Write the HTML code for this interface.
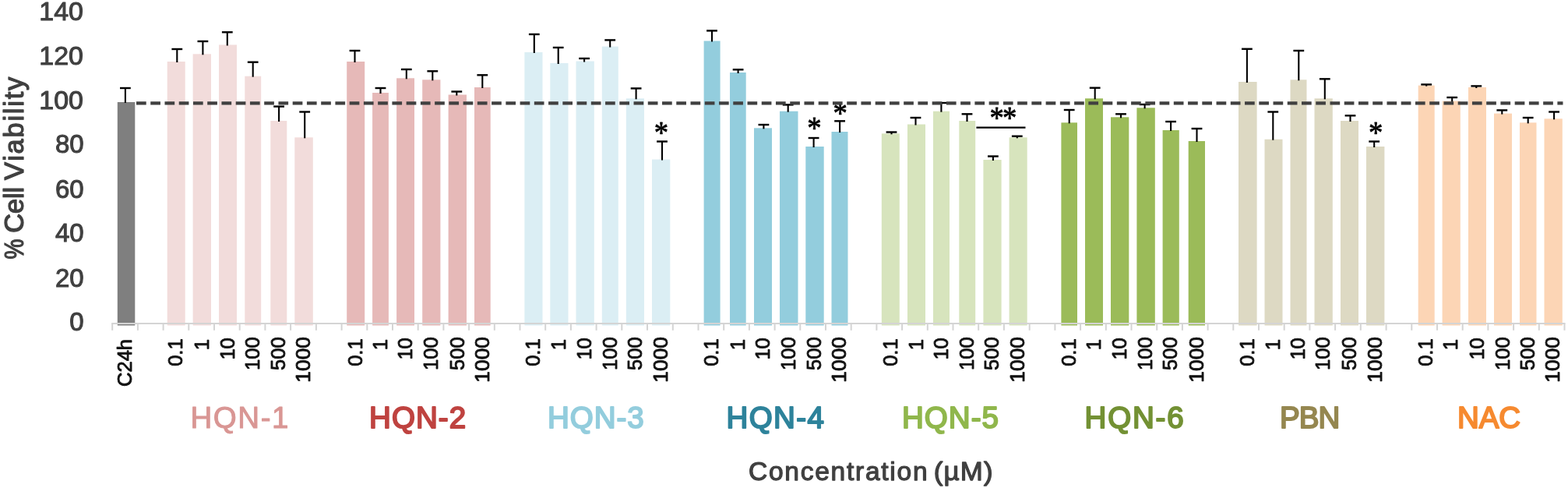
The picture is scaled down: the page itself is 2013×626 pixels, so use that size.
<!DOCTYPE html>
<html lang="en"><head><meta charset="utf-8"><title>Cell viability chart</title>
<style>html,body{margin:0;padding:0;background:#fff;}svg{display:block;}text{font-family:"Liberation Sans",sans-serif;}.yl{font-size:33px;fill:#404040;stroke:#404040;stroke-width:1.05px;stroke-linejoin:round;text-anchor:end;}.tl{font-size:25.5px;fill:#111;stroke:#111;stroke-width:0.9px;stroke-linejoin:round;text-anchor:end;}.gl{font-size:38.5px;stroke-width:2px;stroke-linejoin:round;text-anchor:start;}.at{font-size:31px;fill:#404040;stroke:#404040;stroke-width:1.25px;stroke-linejoin:round;text-anchor:middle;}.st{font-family:"Liberation Serif",serif;font-size:37.5px;fill:#000;stroke:#000;stroke-width:0.75px;stroke-linejoin:round;text-anchor:middle;}</style></head><body>
<svg width="2013" height="626" viewBox="0 0 2013 626">
<rect x="0" y="0" width="2013" height="626" fill="#ffffff"/>
<g id="bars">
<rect x="150.8" y="131.0" width="22.5" height="286.5" fill="#7F7F7F"/>
<rect x="214.7" y="79.0" width="23.0" height="338.5" fill="#F2DCDB"/>
<rect x="247.6" y="69.3" width="23.4" height="348.2" fill="#F2DCDB"/>
<rect x="281.0" y="57.5" width="23.0" height="360.0" fill="#F2DCDB"/>
<rect x="314.3" y="97.7" width="20.9" height="319.8" fill="#F2DCDB"/>
<rect x="347.3" y="155.0" width="21.0" height="262.5" fill="#F2DCDB"/>
<rect x="378.3" y="176.3" width="23.5" height="241.2" fill="#F2DCDB"/>
<rect x="445.2" y="79.0" width="23.0" height="338.5" fill="#E6B9B8"/>
<rect x="478.1" y="119.0" width="20.8" height="298.5" fill="#E6B9B8"/>
<rect x="509.1" y="100.3" width="22.9" height="317.2" fill="#E6B9B8"/>
<rect x="542.2" y="102.3" width="23.2" height="315.2" fill="#E6B9B8"/>
<rect x="575.6" y="121.5" width="23.4" height="296.0" fill="#E6B9B8"/>
<rect x="609.0" y="112.0" width="20.7" height="305.5" fill="#E6B9B8"/>
<rect x="673.4" y="67.0" width="23.1" height="350.5" fill="#DBEEF4"/>
<rect x="706.3" y="81.0" width="23.2" height="336.5" fill="#DBEEF4"/>
<rect x="739.5" y="78.5" width="23.3" height="339.0" fill="#DBEEF4"/>
<rect x="772.8" y="59.6" width="21.0" height="357.9" fill="#DBEEF4"/>
<rect x="803.8" y="126.3" width="23.2" height="291.2" fill="#DBEEF4"/>
<rect x="837.0" y="204.5" width="23.3" height="213.0" fill="#DBEEF4"/>
<rect x="903.6" y="52.5" width="21.0" height="365.0" fill="#93CDDD"/>
<rect x="937.0" y="93.0" width="20.7" height="324.5" fill="#93CDDD"/>
<rect x="968.0" y="164.3" width="23.0" height="253.2" fill="#93CDDD"/>
<rect x="1001.0" y="142.7" width="23.5" height="274.8" fill="#93CDDD"/>
<rect x="1034.3" y="188.0" width="23.4" height="229.5" fill="#93CDDD"/>
<rect x="1067.5" y="169.0" width="21.0" height="248.5" fill="#93CDDD"/>
<rect x="1131.8" y="171.3" width="23.0" height="246.2" fill="#D7E4BD"/>
<rect x="1165.0" y="159.5" width="23.0" height="258.0" fill="#D7E4BD"/>
<rect x="1198.0" y="142.7" width="21.0" height="274.8" fill="#D7E4BD"/>
<rect x="1231.3" y="155.0" width="20.9" height="262.5" fill="#D7E4BD"/>
<rect x="1262.4" y="205.0" width="23.2" height="212.5" fill="#D7E4BD"/>
<rect x="1295.6" y="176.3" width="23.1" height="241.2" fill="#D7E4BD"/>
<rect x="1362.4" y="157.3" width="20.6" height="260.2" fill="#9BBB59"/>
<rect x="1393.0" y="126.3" width="23.0" height="291.2" fill="#9BBB59"/>
<rect x="1426.0" y="150.3" width="23.3" height="267.2" fill="#9BBB59"/>
<rect x="1459.4" y="138.3" width="23.4" height="279.2" fill="#9BBB59"/>
<rect x="1492.6" y="167.0" width="21.2" height="250.5" fill="#9BBB59"/>
<rect x="1525.7" y="181.0" width="21.3" height="236.5" fill="#9BBB59"/>
<rect x="1590.0" y="105.0" width="23.6" height="312.5" fill="#DDD9C3"/>
<rect x="1623.5" y="178.7" width="23.0" height="238.8" fill="#DDD9C3"/>
<rect x="1656.5" y="102.3" width="21.0" height="315.2" fill="#DDD9C3"/>
<rect x="1687.5" y="126.3" width="23.3" height="291.2" fill="#DDD9C3"/>
<rect x="1721.0" y="155.0" width="23.0" height="262.5" fill="#DDD9C3"/>
<rect x="1754.0" y="188.0" width="23.4" height="229.5" fill="#DDD9C3"/>
<rect x="1820.7" y="109.6" width="21.0" height="307.9" fill="#FCD5B5"/>
<rect x="1851.6" y="129.6" width="23.2" height="287.9" fill="#FCD5B5"/>
<rect x="1885.0" y="112.0" width="23.0" height="305.5" fill="#FCD5B5"/>
<rect x="1918.0" y="145.6" width="23.0" height="271.9" fill="#FCD5B5"/>
<rect x="1951.0" y="157.3" width="21.5" height="260.2" fill="#FCD5B5"/>
<rect x="1982.5" y="152.3" width="23.3" height="265.2" fill="#FCD5B5"/>
</g>
<g id="axis" stroke="#D4D4D4" stroke-width="2" fill="none">
<line x1="143.2" y1="414.9" x2="2009.5" y2="414.9"/>
<line x1="144.2" y1="414.9" x2="144.2" y2="423.8"/>
<line x1="176.9" y1="414.9" x2="176.9" y2="423.8"/>
<line x1="209.6" y1="414.9" x2="209.6" y2="423.8"/>
<line x1="242.3" y1="414.9" x2="242.3" y2="423.8"/>
<line x1="275.0" y1="414.9" x2="275.0" y2="423.8"/>
<line x1="307.7" y1="414.9" x2="307.7" y2="423.8"/>
<line x1="340.4" y1="414.9" x2="340.4" y2="423.8"/>
<line x1="373.1" y1="414.9" x2="373.1" y2="423.8"/>
<line x1="405.9" y1="414.9" x2="405.9" y2="423.8"/>
<line x1="438.6" y1="414.9" x2="438.6" y2="423.8"/>
<line x1="471.3" y1="414.9" x2="471.3" y2="423.8"/>
<line x1="504.0" y1="414.9" x2="504.0" y2="423.8"/>
<line x1="536.7" y1="414.9" x2="536.7" y2="423.8"/>
<line x1="569.4" y1="414.9" x2="569.4" y2="423.8"/>
<line x1="602.1" y1="414.9" x2="602.1" y2="423.8"/>
<line x1="634.8" y1="414.9" x2="634.8" y2="423.8"/>
<line x1="667.5" y1="414.9" x2="667.5" y2="423.8"/>
<line x1="700.2" y1="414.9" x2="700.2" y2="423.8"/>
<line x1="732.9" y1="414.9" x2="732.9" y2="423.8"/>
<line x1="765.6" y1="414.9" x2="765.6" y2="423.8"/>
<line x1="798.3" y1="414.9" x2="798.3" y2="423.8"/>
<line x1="831.0" y1="414.9" x2="831.0" y2="423.8"/>
<line x1="863.8" y1="414.9" x2="863.8" y2="423.8"/>
<line x1="896.5" y1="414.9" x2="896.5" y2="423.8"/>
<line x1="929.2" y1="414.9" x2="929.2" y2="423.8"/>
<line x1="961.9" y1="414.9" x2="961.9" y2="423.8"/>
<line x1="994.6" y1="414.9" x2="994.6" y2="423.8"/>
<line x1="1027.3" y1="414.9" x2="1027.3" y2="423.8"/>
<line x1="1060.0" y1="414.9" x2="1060.0" y2="423.8"/>
<line x1="1092.7" y1="414.9" x2="1092.7" y2="423.8"/>
<line x1="1125.4" y1="414.9" x2="1125.4" y2="423.8"/>
<line x1="1158.1" y1="414.9" x2="1158.1" y2="423.8"/>
<line x1="1190.8" y1="414.9" x2="1190.8" y2="423.8"/>
<line x1="1223.5" y1="414.9" x2="1223.5" y2="423.8"/>
<line x1="1256.2" y1="414.9" x2="1256.2" y2="423.8"/>
<line x1="1288.9" y1="414.9" x2="1288.9" y2="423.8"/>
<line x1="1321.7" y1="414.9" x2="1321.7" y2="423.8"/>
<line x1="1354.4" y1="414.9" x2="1354.4" y2="423.8"/>
<line x1="1387.1" y1="414.9" x2="1387.1" y2="423.8"/>
<line x1="1419.8" y1="414.9" x2="1419.8" y2="423.8"/>
<line x1="1452.5" y1="414.9" x2="1452.5" y2="423.8"/>
<line x1="1485.2" y1="414.9" x2="1485.2" y2="423.8"/>
<line x1="1517.9" y1="414.9" x2="1517.9" y2="423.8"/>
<line x1="1550.6" y1="414.9" x2="1550.6" y2="423.8"/>
<line x1="1583.3" y1="414.9" x2="1583.3" y2="423.8"/>
<line x1="1616.0" y1="414.9" x2="1616.0" y2="423.8"/>
<line x1="1648.7" y1="414.9" x2="1648.7" y2="423.8"/>
<line x1="1681.4" y1="414.9" x2="1681.4" y2="423.8"/>
<line x1="1714.1" y1="414.9" x2="1714.1" y2="423.8"/>
<line x1="1746.8" y1="414.9" x2="1746.8" y2="423.8"/>
<line x1="1779.6" y1="414.9" x2="1779.6" y2="423.8"/>
<line x1="1812.3" y1="414.9" x2="1812.3" y2="423.8"/>
<line x1="1845.0" y1="414.9" x2="1845.0" y2="423.8"/>
<line x1="1877.7" y1="414.9" x2="1877.7" y2="423.8"/>
<line x1="1910.4" y1="414.9" x2="1910.4" y2="423.8"/>
<line x1="1943.1" y1="414.9" x2="1943.1" y2="423.8"/>
<line x1="1975.8" y1="414.9" x2="1975.8" y2="423.8"/>
<line x1="2008.5" y1="414.9" x2="2008.5" y2="423.8"/>
</g>
<g id="err" stroke="#000" fill="none">
<line x1="160.9" y1="113.0" x2="160.9" y2="132.0" stroke-width="2.1"/>
<line x1="154.0" y1="113.0" x2="167.8" y2="113.0" stroke-width="2.4"/>
<line x1="227.3" y1="63.0" x2="227.3" y2="80.0" stroke-width="2.1"/>
<line x1="220.4" y1="63.0" x2="234.2" y2="63.0" stroke-width="2.4"/>
<line x1="260.4" y1="53.0" x2="260.4" y2="70.3" stroke-width="2.1"/>
<line x1="253.5" y1="53.0" x2="267.3" y2="53.0" stroke-width="2.4"/>
<line x1="291.8" y1="41.3" x2="291.8" y2="58.5" stroke-width="2.1"/>
<line x1="284.9" y1="41.3" x2="298.7" y2="41.3" stroke-width="2.4"/>
<line x1="324.7" y1="79.7" x2="324.7" y2="98.7" stroke-width="2.1"/>
<line x1="317.8" y1="79.7" x2="331.6" y2="79.7" stroke-width="2.4"/>
<line x1="358.1" y1="136.6" x2="358.1" y2="156.0" stroke-width="2.1"/>
<line x1="351.2" y1="136.6" x2="365.0" y2="136.6" stroke-width="2.4"/>
<line x1="391.2" y1="143.5" x2="391.2" y2="177.3" stroke-width="2.1"/>
<line x1="384.3" y1="143.5" x2="398.1" y2="143.5" stroke-width="2.4"/>
<line x1="455.5" y1="65.0" x2="455.5" y2="80.0" stroke-width="2.1"/>
<line x1="448.6" y1="65.0" x2="462.4" y2="65.0" stroke-width="2.4"/>
<line x1="488.5" y1="113.0" x2="488.5" y2="120.0" stroke-width="2.1"/>
<line x1="481.6" y1="113.0" x2="495.4" y2="113.0" stroke-width="2.4"/>
<line x1="521.8" y1="89.0" x2="521.8" y2="101.3" stroke-width="2.1"/>
<line x1="514.9" y1="89.0" x2="528.7" y2="89.0" stroke-width="2.4"/>
<line x1="555.3" y1="91.3" x2="555.3" y2="103.3" stroke-width="2.1"/>
<line x1="548.4" y1="91.3" x2="562.2" y2="91.3" stroke-width="2.4"/>
<line x1="586.3" y1="117.5" x2="586.3" y2="122.5" stroke-width="2.1"/>
<line x1="579.4" y1="117.5" x2="593.2" y2="117.5" stroke-width="2.4"/>
<line x1="619.3" y1="96.3" x2="619.3" y2="113.0" stroke-width="2.1"/>
<line x1="612.4" y1="96.3" x2="626.2" y2="96.3" stroke-width="2.4"/>
<line x1="685.8" y1="44.0" x2="685.8" y2="68.0" stroke-width="2.1"/>
<line x1="678.9" y1="44.0" x2="692.7" y2="44.0" stroke-width="2.4"/>
<line x1="716.7" y1="61.0" x2="716.7" y2="82.0" stroke-width="2.1"/>
<line x1="709.8" y1="61.0" x2="723.6" y2="61.0" stroke-width="2.4"/>
<line x1="750.1" y1="75.0" x2="750.1" y2="79.5" stroke-width="2.1"/>
<line x1="743.2" y1="75.0" x2="757.0" y2="75.0" stroke-width="2.4"/>
<line x1="783.2" y1="51.4" x2="783.2" y2="60.6" stroke-width="2.1"/>
<line x1="776.3" y1="51.4" x2="790.1" y2="51.4" stroke-width="2.4"/>
<line x1="816.6" y1="113.4" x2="816.6" y2="127.3" stroke-width="2.1"/>
<line x1="809.7" y1="113.4" x2="823.5" y2="113.4" stroke-width="2.4"/>
<line x1="850.0" y1="181.5" x2="850.0" y2="205.5" stroke-width="2.1"/>
<line x1="843.1" y1="181.5" x2="856.9" y2="181.5" stroke-width="2.4"/>
<line x1="914.0" y1="39.4" x2="914.0" y2="53.5" stroke-width="2.1"/>
<line x1="907.1" y1="39.4" x2="920.9" y2="39.4" stroke-width="2.4"/>
<line x1="947.6" y1="89.3" x2="947.6" y2="94.0" stroke-width="2.1"/>
<line x1="940.7" y1="89.3" x2="954.5" y2="89.3" stroke-width="2.4"/>
<line x1="980.4" y1="160.0" x2="980.4" y2="165.3" stroke-width="2.1"/>
<line x1="973.5" y1="160.0" x2="987.3" y2="160.0" stroke-width="2.4"/>
<line x1="1011.7" y1="134.4" x2="1011.7" y2="143.7" stroke-width="2.1"/>
<line x1="1004.8" y1="134.4" x2="1018.6" y2="134.4" stroke-width="2.4"/>
<line x1="1044.6" y1="177.0" x2="1044.6" y2="189.0" stroke-width="2.1"/>
<line x1="1037.7" y1="177.0" x2="1051.5" y2="177.0" stroke-width="2.4"/>
<line x1="1078.1" y1="155.3" x2="1078.1" y2="170.0" stroke-width="2.1"/>
<line x1="1071.2" y1="155.3" x2="1085.0" y2="155.3" stroke-width="2.4"/>
<line x1="1144.5" y1="169.5" x2="1144.5" y2="172.3" stroke-width="2.1"/>
<line x1="1137.6" y1="169.5" x2="1151.4" y2="169.5" stroke-width="2.4"/>
<line x1="1175.5" y1="151.0" x2="1175.5" y2="160.5" stroke-width="2.1"/>
<line x1="1168.6" y1="151.0" x2="1182.4" y2="151.0" stroke-width="2.4"/>
<line x1="1208.4" y1="132.0" x2="1208.4" y2="143.7" stroke-width="2.1"/>
<line x1="1201.5" y1="132.0" x2="1215.3" y2="132.0" stroke-width="2.4"/>
<line x1="1241.5" y1="146.3" x2="1241.5" y2="156.0" stroke-width="2.1"/>
<line x1="1234.6" y1="146.3" x2="1248.4" y2="146.3" stroke-width="2.4"/>
<line x1="1274.9" y1="200.5" x2="1274.9" y2="206.0" stroke-width="2.1"/>
<line x1="1268.0" y1="200.5" x2="1281.8" y2="200.5" stroke-width="2.4"/>
<line x1="1305.8" y1="174.7" x2="1305.8" y2="177.3" stroke-width="2.1"/>
<line x1="1298.9" y1="174.7" x2="1312.7" y2="174.7" stroke-width="2.4"/>
<line x1="1372.7" y1="141.0" x2="1372.7" y2="158.3" stroke-width="2.1"/>
<line x1="1365.8" y1="141.0" x2="1379.6" y2="141.0" stroke-width="2.4"/>
<line x1="1405.7" y1="112.7" x2="1405.7" y2="127.3" stroke-width="2.1"/>
<line x1="1398.8" y1="112.7" x2="1412.6" y2="112.7" stroke-width="2.4"/>
<line x1="1439.0" y1="146.3" x2="1439.0" y2="151.3" stroke-width="2.1"/>
<line x1="1432.1" y1="146.3" x2="1445.9" y2="146.3" stroke-width="2.4"/>
<line x1="1469.6" y1="134.0" x2="1469.6" y2="139.3" stroke-width="2.1"/>
<line x1="1462.7" y1="134.0" x2="1476.5" y2="134.0" stroke-width="2.4"/>
<line x1="1503.1" y1="156.0" x2="1503.1" y2="168.0" stroke-width="2.1"/>
<line x1="1496.2" y1="156.0" x2="1510.0" y2="156.0" stroke-width="2.4"/>
<line x1="1536.5" y1="165.0" x2="1536.5" y2="182.0" stroke-width="2.1"/>
<line x1="1529.6" y1="165.0" x2="1543.4" y2="165.0" stroke-width="2.4"/>
<line x1="1600.9" y1="62.8" x2="1600.9" y2="106.0" stroke-width="2.1"/>
<line x1="1594.0" y1="62.8" x2="1607.8" y2="62.8" stroke-width="2.4"/>
<line x1="1634.3" y1="143.5" x2="1634.3" y2="179.7" stroke-width="2.1"/>
<line x1="1627.4" y1="143.5" x2="1641.2" y2="143.5" stroke-width="2.4"/>
<line x1="1667.3" y1="65.0" x2="1667.3" y2="103.3" stroke-width="2.1"/>
<line x1="1660.4" y1="65.0" x2="1674.2" y2="65.0" stroke-width="2.4"/>
<line x1="1700.8" y1="101.3" x2="1700.8" y2="127.3" stroke-width="2.1"/>
<line x1="1693.9" y1="101.3" x2="1707.7" y2="101.3" stroke-width="2.4"/>
<line x1="1733.5" y1="148.3" x2="1733.5" y2="156.0" stroke-width="2.1"/>
<line x1="1726.6" y1="148.3" x2="1740.4" y2="148.3" stroke-width="2.4"/>
<line x1="1764.2" y1="181.5" x2="1764.2" y2="189.0" stroke-width="2.1"/>
<line x1="1757.3" y1="181.5" x2="1771.1" y2="181.5" stroke-width="2.4"/>
<line x1="1831.2" y1="108.4" x2="1831.2" y2="110.6" stroke-width="2.1"/>
<line x1="1824.3" y1="108.4" x2="1838.1" y2="108.4" stroke-width="2.4"/>
<line x1="1864.2" y1="125.0" x2="1864.2" y2="130.6" stroke-width="2.1"/>
<line x1="1857.3" y1="125.0" x2="1871.1" y2="125.0" stroke-width="2.4"/>
<line x1="1895.3" y1="110.4" x2="1895.3" y2="113.0" stroke-width="2.1"/>
<line x1="1888.4" y1="110.4" x2="1902.2" y2="110.4" stroke-width="2.4"/>
<line x1="1928.3" y1="141.4" x2="1928.3" y2="146.6" stroke-width="2.1"/>
<line x1="1921.4" y1="141.4" x2="1935.2" y2="141.4" stroke-width="2.4"/>
<line x1="1961.7" y1="151.0" x2="1961.7" y2="158.3" stroke-width="2.1"/>
<line x1="1954.8" y1="151.0" x2="1968.6" y2="151.0" stroke-width="2.4"/>
<line x1="1995.1" y1="143.5" x2="1995.1" y2="153.3" stroke-width="2.1"/>
<line x1="1988.2" y1="143.5" x2="2002.0" y2="143.5" stroke-width="2.4"/>
</g>
<line x1="1253.4" y1="163.6" x2="1316.5" y2="163.6" stroke="#000" stroke-width="2.2"/>
<text class="st" transform="translate(848.9,164.5) scale(0.98,1.09)" x="0" y="17.35">*</text>
<text class="st" transform="translate(1045.4,158.35) scale(0.98,1.09)" x="0" y="17.35">*</text>
<text class="st" transform="translate(1078.7,139.5) scale(0.98,1.09)" x="0" y="17.35">*</text>
<text class="st" transform="translate(1279.8,145.1) scale(0.98,1.09)" x="0" y="17.35">*</text>
<text class="st" transform="translate(1296.3,145.1) scale(0.98,1.09)" x="0" y="17.35">*</text>
<text class="st" transform="translate(1766.25,164.5) scale(0.98,1.09)" x="0" y="17.35">*</text>
<line x1="175" y1="132.4" x2="2006.5" y2="132.4" stroke="#404040" stroke-width="4.2" stroke-dasharray="12.7 5.544"/>
<text class="yl" transform="translate(107.0,26.2) scale(1.03,1)" x="0" y="0">140</text>
<text class="yl" transform="translate(107.0,82.6) scale(1.03,1)" x="0" y="0">120</text>
<text class="yl" transform="translate(107.0,140.0) scale(1.03,1)" x="0" y="0">100</text>
<text class="yl" transform="translate(107.6,195.9) scale(1.0,1)" x="0" y="0">80</text>
<text class="yl" transform="translate(107.6,254.2) scale(1.0,1)" x="0" y="0">60</text>
<text class="yl" transform="translate(107.6,310.4) scale(1.0,1)" x="0" y="0">40</text>
<text class="yl" transform="translate(107.6,368.1) scale(1.0,1)" x="0" y="0">20</text>
<text class="yl" transform="translate(107.6,424.1) scale(1.0,1)" x="0" y="0">0</text>
<text class="at" style="font-size:34.5px;text-anchor:start;letter-spacing:0.000px" transform="translate(30.3,332.60) rotate(-90) scale(0.8460,1)" x="0" y="0">%</text>
<text class="at" style="font-size:34.5px;text-anchor:start;letter-spacing:-0.167px" transform="translate(30.3,298.80) rotate(-90) scale(1.0000,1)" x="0" y="0">Cell</text>
<text class="at" style="font-size:34.5px;text-anchor:start;letter-spacing:1.750px" transform="translate(30.3,231.00) rotate(-90) scale(1.0000,1)" x="0" y="0">Viability</text>
<text class="tl" transform="translate(168.7,435) rotate(-90)">C24h</text>
<text class="tl" transform="translate(234.4,434.4) rotate(-90) scale(1,1)">0.1</text>
<text class="tl" transform="translate(267.5,435.0) rotate(-90) scale(1,1)">1</text>
<text class="tl" transform="translate(300.7,433.2) rotate(-90) scale(1,1)">10</text>
<text class="tl" transform="translate(332.9,432.4) rotate(-90) scale(1,1)">100</text>
<text class="tl" transform="translate(366.0,432.4) rotate(-90) scale(1,1)">500</text>
<text class="tl" transform="translate(398.2,432.0) rotate(-90) scale(1.035,1)">1000</text>
<text class="tl" transform="translate(464.9,434.4) rotate(-90) scale(1,1)">0.1</text>
<text class="tl" transform="translate(496.7,435.0) rotate(-90) scale(1,1)">1</text>
<text class="tl" transform="translate(528.8,433.2) rotate(-90) scale(1,1)">10</text>
<text class="tl" transform="translate(562.0,432.4) rotate(-90) scale(1,1)">100</text>
<text class="tl" transform="translate(595.5,432.4) rotate(-90) scale(1,1)">500</text>
<text class="tl" transform="translate(627.6,432.0) rotate(-90) scale(1.035,1)">1000</text>
<text class="tl" transform="translate(693.2,434.4) rotate(-90) scale(1,1)">0.1</text>
<text class="tl" transform="translate(726.1,435.0) rotate(-90) scale(1,1)">1</text>
<text class="tl" transform="translate(759.4,433.2) rotate(-90) scale(1,1)">10</text>
<text class="tl" transform="translate(791.5,432.4) rotate(-90) scale(1,1)">100</text>
<text class="tl" transform="translate(823.6,432.4) rotate(-90) scale(1,1)">500</text>
<text class="tl" transform="translate(856.9,432.0) rotate(-90) scale(1.035,1)">1000</text>
<text class="tl" transform="translate(922.3,434.4) rotate(-90) scale(1,1)">0.1</text>
<text class="tl" transform="translate(955.6,435.0) rotate(-90) scale(1,1)">1</text>
<text class="tl" transform="translate(987.7,433.2) rotate(-90) scale(1,1)">10</text>
<text class="tl" transform="translate(1021.0,432.4) rotate(-90) scale(1,1)">100</text>
<text class="tl" transform="translate(1054.2,432.4) rotate(-90) scale(1,1)">500</text>
<text class="tl" transform="translate(1086.2,432.0) rotate(-90) scale(1.035,1)">1000</text>
<text class="tl" transform="translate(1151.5,434.4) rotate(-90) scale(1,1)">0.1</text>
<text class="tl" transform="translate(1184.7,435.0) rotate(-90) scale(1,1)">1</text>
<text class="tl" transform="translate(1216.7,433.2) rotate(-90) scale(1,1)">10</text>
<text class="tl" transform="translate(1250.0,432.4) rotate(-90) scale(1,1)">100</text>
<text class="tl" transform="translate(1282.2,432.4) rotate(-90) scale(1,1)">500</text>
<text class="tl" transform="translate(1315.4,432.0) rotate(-90) scale(1.035,1)">1000</text>
<text class="tl" transform="translate(1380.9,434.4) rotate(-90) scale(1,1)">0.1</text>
<text class="tl" transform="translate(1412.7,435.0) rotate(-90) scale(1,1)">1</text>
<text class="tl" transform="translate(1445.9,433.2) rotate(-90) scale(1,1)">10</text>
<text class="tl" transform="translate(1479.3,432.4) rotate(-90) scale(1,1)">100</text>
<text class="tl" transform="translate(1511.4,432.4) rotate(-90) scale(1,1)">500</text>
<text class="tl" transform="translate(1544.5,432.0) rotate(-90) scale(1.035,1)">1000</text>
<text class="tl" transform="translate(1610.0,434.4) rotate(-90) scale(1,1)">0.1</text>
<text class="tl" transform="translate(1643.2,435.0) rotate(-90) scale(1,1)">1</text>
<text class="tl" transform="translate(1675.2,433.2) rotate(-90) scale(1,1)">10</text>
<text class="tl" transform="translate(1707.4,432.4) rotate(-90) scale(1,1)">100</text>
<text class="tl" transform="translate(1740.7,432.4) rotate(-90) scale(1,1)">500</text>
<text class="tl" transform="translate(1773.9,432.0) rotate(-90) scale(1.035,1)">1000</text>
<text class="tl" transform="translate(1839.4,434.4) rotate(-90) scale(1,1)">0.1</text>
<text class="tl" transform="translate(1871.4,435.0) rotate(-90) scale(1,1)">1</text>
<text class="tl" transform="translate(1904.7,433.2) rotate(-90) scale(1,1)">10</text>
<text class="tl" transform="translate(1937.7,432.4) rotate(-90) scale(1,1)">100</text>
<text class="tl" transform="translate(1970.0,432.4) rotate(-90) scale(1,1)">500</text>
<text class="tl" transform="translate(2002.4,432.0) rotate(-90) scale(1.035,1)">1000</text>
<text class="gl" x="244.50" y="548.6" fill="#D99694" stroke="#D99694" style="letter-spacing:1.55px;stroke-width:1px">HQN-1</text>
<text class="gl" x="474.00" y="548.6" fill="#BF4340" stroke="#BF4340" style="letter-spacing:1.10px">HQN-2</text>
<text class="gl" x="703.00" y="548.6" fill="#93CDDD" stroke="#93CDDD" style="letter-spacing:1.00px">HQN-3</text>
<text class="gl" x="932.50" y="548.6" fill="#2E839B" stroke="#2E839B" style="letter-spacing:1.40px">HQN-4</text>
<text class="gl" x="1158.00" y="548.6" fill="#90B74C" stroke="#90B74C" style="letter-spacing:1.05px">HQN-5</text>
<text class="gl" x="1392.50" y="548.6" fill="#739134" stroke="#739134" style="letter-spacing:1.85px">HQN-6</text>
<text class="gl" x="1643.00" y="548.6" fill="#958750" stroke="#958750" style="letter-spacing:-0.90px">PBN</text>
<text class="gl" x="1871.00" y="548.6" fill="#F68A30" stroke="#F68A30" style="letter-spacing:-0.10px">NAC</text>
<text class="at" style="font-size:33.5px;text-anchor:start;letter-spacing:1.750px" transform="translate(961.00,616.3) scale(1.0000,1)" x="0" y="0">Concentration</text>
<text class="at" style="font-size:33.5px;text-anchor:start;letter-spacing:1.122px" transform="translate(1198.80,616.3) scale(1.0400,1)" x="0" y="0">(µM)</text>
</svg></body></html>
